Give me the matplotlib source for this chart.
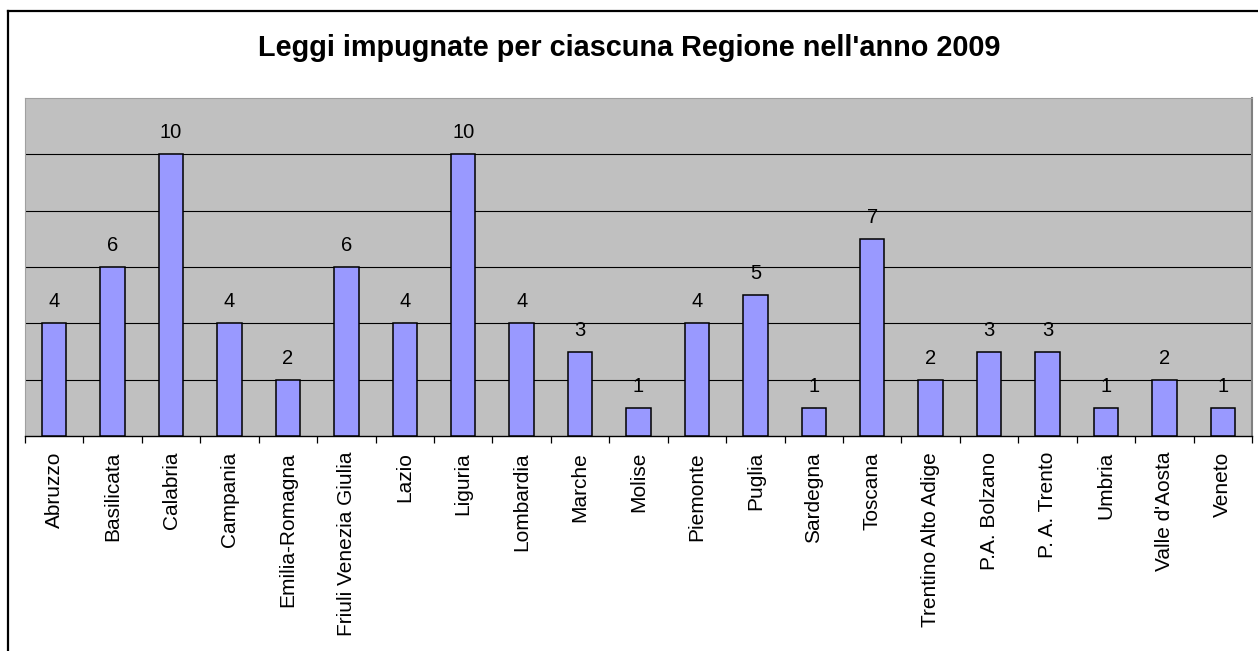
import numpy as np
import matplotlib
matplotlib.use('Agg')
import matplotlib.pyplot as plt
from matplotlib.lines import Line2D

plt.rcParams['font.family'] = ['Liberation Sans', 'DejaVu Sans']

regioni = ['Abruzzo', 'Basilicata', 'Calabria', 'Campania', 'Emilia-Romagna',
           'Friuli Venezia Giulia', 'Lazio', 'Liguria', 'Lombardia', 'Marche',
           'Molise', 'Piemonte', 'Puglia', 'Sardegna', 'Toscana',
           'Trentino Alto Adige', 'P.A. Bolzano', 'P. A. Trento', 'Umbria',
           "Valle d'Aosta", 'Veneto']
leggi = [4, 6, 10, 4, 2, 6, 4, 10, 4, 3, 1, 4, 5, 1, 7, 2, 3, 3, 1, 2, 1]

W, H = 1258, 651
fig = plt.figure(figsize=(W/100., H/100.), dpi=100)
fig.patch.set_facecolor('white')

# plot area in pixel coords
x0, x1 = 25, 1252
ytop, ybot = 98, 436
ax = fig.add_axes([x0/W, (H-ybot)/H, (x1-x0)/W, (ybot-ytop)/H])
ax.set_facecolor('#c0c0c0')

x = np.arange(len(regioni))
ax.bar(x, leggi, width=0.42, color='#9999ff', edgecolor='black', linewidth=1.1, zorder=3)

for xi, v in zip(x, leggi):
    ax.annotate(str(v), (xi, v), xytext=(0, 11.5), textcoords='offset points',
                ha='center', va='baseline', fontsize=14.5, color='black')

ax.set_xlim(-0.5, len(regioni)-0.5)
ax.set_ylim(0, 12)
ax.set_yticks([2, 4, 6, 8, 10])
ax.yaxis.grid(True, color='black', linewidth=0.8, zorder=1)
ax.tick_params(axis='y', length=0, labelleft=False)

ax.set_xticks(x)
ax.set_xticklabels(regioni, rotation=90, fontsize=15, va='top', ha='center')
ax.set_xticks(np.arange(len(regioni)+1)-0.5, minor=True)
ax.tick_params(axis='x', which='major', length=0, pad=11.5)
ax.tick_params(axis='x', which='minor', length=5, width=0.9, direction='out', color='black')

ax.spines['bottom'].set_color('black')
ax.spines['bottom'].set_linewidth(1.0)
ax.spines['top'].set_color('#a0a0a0')
ax.spines['right'].set_color('#808080')
ax.spines['right'].set_linewidth(1.5)
ax.spines['left'].set_color('#a0a0a0')

fig.text(0.5, (H-48)/H, "Leggi impugnate per ciascuna Regione nell'anno 2009",
         ha='center', va='center', fontsize=20.8, fontweight='bold')

# outer chart frame (top and left edges)
fig.add_artist(Line2D([8/W, 1.0], [(H-11)/H, (H-11)/H], transform=fig.transFigure,
                      color='black', linewidth=1.6))
fig.add_artist(Line2D([8/W, 8/W], [0.0, (H-11)/H], transform=fig.transFigure,
                      color='black', linewidth=1.6))

fig.savefig('out.png', dpi=100)
